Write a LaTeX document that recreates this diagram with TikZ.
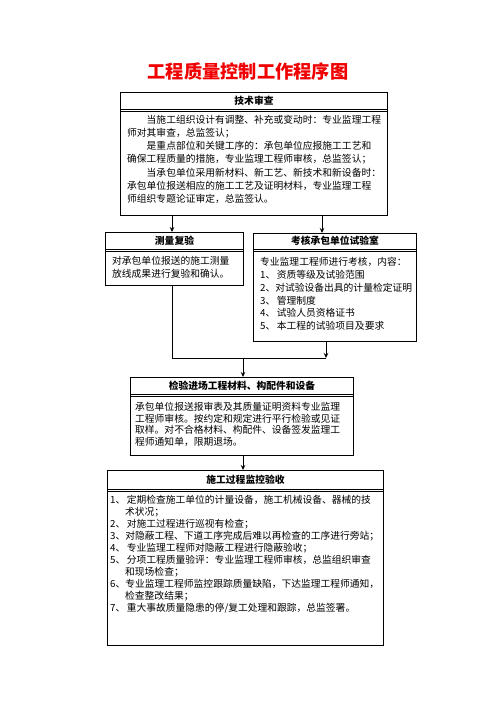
\documentclass[tikz,border=0pt]{standalone}
\usepackage{fontspec}
\setmainfont{Noto Sans CJK SC}
\usetikzlibrary{arrows.meta,calc}
\definecolor{titlered}{RGB}{240,0,0}
\newcommand{\gp}{\hspace{1.5bp}}
\begin{document}
\begin{tikzpicture}[x=1bp,y=-1bp,
  box/.style={draw,line width=1bp,inner sep=0pt,anchor=north west},
  head/.style={font=\fontsize{9.8}{12}\selectfont\bfseries,inner sep=0pt},
  body/.style={align=left,inner sep=0pt,anchor=north west},
  arr/.style={line width=0.9bp,-{Stealth[length=5bp,width=4.5bp]}},
  ln/.style={line width=0.9bp},
  sepl/.style={line width=0.6bp}]
\useasboundingbox (0,0) rectangle (496,702);

% title
\node[font=\fontsize{18.3}{20}\selectfont\bfseries,text=titlered,inner sep=0pt] (title) at (248,72) {工程质量控制工作程序图};

% box 1
\node[box,minimum width=267bp,minimum height=123bp] (b1) at (120,92) {};
\draw[sepl] ($(b1.north west)+(0,17)$) -- ($(b1.north east)+(0,17)$);
\draw[sepl] ($(b1.north west)+(0,19)$) -- ($(b1.north east)+(0,19)$);
\node[head] (h1) at ($(b1.north)+(0,8.5)$) {技术审查};
\node[body,font=\fontsize{9.8}{13.2}\selectfont] (t1) at (127,115) {%
\hspace*{2em}当施工组织设计有调整、补充或变动时：专业监理工程\\
师对其审查，总监签认；\\
\hspace*{2em}是重点部位和关键工序的：承包单位应报施工工艺和\\
确保工程质量的措施，专业监理工程师审核，总监签认；\\
\hspace*{2em}当承包单位采用新材料、新工艺、新技术和新设备时：\\
承包单位报送相应的施工工艺及证明材料，专业监理工程\\
师组织专题论证审定，总监签认。};

% box 2
\node[box,minimum width=138bp,minimum height=53bp] (b2) at (105,232) {};
\draw[sepl] ($(b2.north west)+(0,17)$) -- ($(b2.north east)+(0,17)$);
\draw[sepl] ($(b2.north west)+(0,19)$) -- ($(b2.north east)+(0,19)$);
\node[head] (h2) at ($(b2.north)+(0,8.5)$) {测量复验};
\node[body,font=\fontsize{9.8}{13}\selectfont] (t2) at (112,256) {%
对承包单位报送的施工测量\\
放线成果进行复验和确认。};

% box 3
\node[box,minimum width=163bp,minimum height=108bp] (b3) at (253,233) {};
\draw[sepl] ($(b3.north west)+(0,16)$) -- ($(b3.north east)+(0,16)$);
\draw[sepl] ($(b3.north west)+(0,18)$) -- ($(b3.north east)+(0,18)$);
\node[head] (h3) at ($(b3.north)+(0,8)$) {考核承包单位试验室};
\node[body,font=\fontsize{9.8}{12.9}\selectfont] (t3) at (260,257) {%
专业监理工程师进行考核，内容：\\
1、\gp 资质等级及试验范围\\
2、对试验设备出具的计量检定证明\\
3、\gp 管理制度\\
4、\gp 试验人员资格证书\\
5、\gp 本工程的试验项目及要求};

% box 4
\node[box,minimum width=223bp,minimum height=78bp] (b4) at (130,377) {};
\draw[sepl] ($(b4.north west)+(0,17)$) -- ($(b4.north east)+(0,17)$);
\draw[sepl] ($(b4.north west)+(0,19)$) -- ($(b4.north east)+(0,19)$);
\node[head] (h4) at ($(b4.north)+(0,8.5)$) {检验进场工程材料、构配件和设备};
\node[body,font=\fontsize{9.8}{11.7}\selectfont] (t4) at (135,402) {%
承包单位报送报审表及其质量证明资料专业监理\\
工程师审核。按约定和规定进行平行检验或见证\\
取样。对不合格材料、构配件、设备签发监理工\\
程师通知单，限期退场。};

% box 5
\node[box,minimum width=276bp,minimum height=175bp] (b5) at (107,470) {};
\draw[sepl] ($(b5.north west)+(0,19)$) -- ($(b5.north east)+(0,19)$);
\draw[sepl] ($(b5.north west)+(0,21)$) -- ($(b5.north east)+(0,21)$);
\node[head] (h5) at ($(b5.north)+(0,9.5)$) {施工过程监控验收};
\node[body,font=\fontsize{9.8}{12}\selectfont] (t5) at (110,495) {%
1、\gp 定期检查施工单位的计量设备，施工机械设备、器械的技\\
\hspace*{15bp}术状况；\\
2、\gp 对施工过程进行巡视有检查；\\
3、对隐蔽工程、下道工序完成后难以再检查的工序进行旁站；\\
4、\gp 专业监理工程师对隐蔽工程进行隐蔽验收；\\
5、\gp 分项工程质量验评：专业监理工程师审核，总监组织审查\\
\hspace*{15bp}和现场检查；\\
6、专业监理工程师监控跟踪质量缺陷，下达监理工程师通知，\\
\hspace*{15bp}检查整改结果；\\
7、\gp 重大事故质量隐患的停/复工处理和跟踪，总监签署。};

% connectors
\coordinate (c1) at (172,0);
\coordinate (c2) at (322,0);
\coordinate (jl) at (172,358);
\coordinate (jr) at (326,358);
\coordinate (jm) at (243,358);
\draw[arr] (c1 |- b1.south) -- (c1 |- b2.north);
\draw[arr] (c2 |- b1.south) -- (c2 |- b3.north);
\draw[ln] (jl |- b2.south) -- (jl) -- (jr);
\draw[arr] (jr |- b3.south) -- (jr);
\draw[arr] (jm) -- (jm |- b4.north);
\draw[arr] (jm |- b4.south) -- (jm |- b5.north);
\end{tikzpicture}
\end{document}
